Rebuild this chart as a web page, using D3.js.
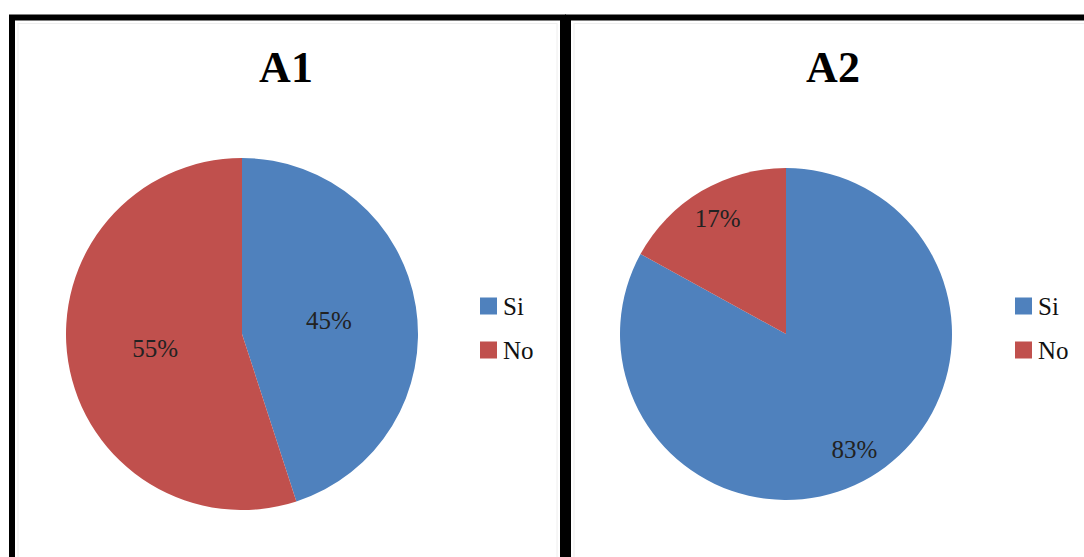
<!DOCTYPE html>
<html><head><meta charset="utf-8">
<script src="https://cdn.jsdelivr.net/npm/d3@7"></script>
<style>body{margin:0;background:#fff}svg{display:block}
text{font-family:"Liberation Serif","Times New Roman","DejaVu Serif",serif}</style>
</head><body>
<svg id="c" width="1084" height="557"></svg>
<script>
const categories = ["Si", "No"];
const titles = ["A1", "A2"];
const valuesA1 = [45, 55];
const valuesA2 = [83, 17];
const colors = ["#4F81BD", "#C0504D"];

const svg = d3.select("#c");
const panels = [
  {title: titles[0], values: valuesA1, x0: 12, x1: 563, cx: 242, cy: 334, r: 176, tx: 286, lx: 480, lr: 0.5},
  {title: titles[1], values: valuesA2, x0: 568, x1: 1120, cx: 786, cy: 334, r: 166, tx: 833, lx: 1015, lr: 0.81}
];
const color = d3.scaleOrdinal().domain(categories).range(colors);

panels.forEach(p => {
  svg.append("rect").attr("x", p.x0 + 6).attr("y", 23.5).attr("width", p.x1 - p.x0 - 12).attr("height", 600)
    .attr("fill", "none").attr("stroke", "#eeeeee").attr("stroke-width", 1);
  svg.append("rect").attr("x", p.x0).attr("y", 17.5).attr("width", p.x1 - p.x0).attr("height", 600)
    .attr("fill", "none").attr("stroke", "#000").attr("stroke-width", 6);

  svg.append("text").attr("x", p.tx).attr("y", 82).attr("text-anchor", "middle")
    .attr("font-weight", "bold").attr("font-size", 44)
    .text(p.title);

  const data = categories.map((c, i) => ({cat: c, v: p.values[i]}));
  const pie = d3.pie().value(d => d.v).sort(null);
  const arcs = pie(data);
  const arc = d3.arc().innerRadius(0).outerRadius(p.r);
  const labelArc = d3.arc().innerRadius(p.r * p.lr).outerRadius(p.r * p.lr);
  const g = svg.append("g").attr("transform", `translate(${p.cx},${p.cy})`);
  g.selectAll("path").data(arcs).join("path")
    .attr("d", arc).attr("fill", d => color(d.data.cat));
  g.selectAll("text").data(arcs).join("text")
    .attr("transform", d => `translate(${labelArc.centroid(d)})`)
    .attr("text-anchor", "middle").attr("dy", "0.35em")
    .attr("font-size", 25).attr("fill", "#222")
    .text(d => d.data.v + "%");

  const lg = svg.append("g").attr("transform", `translate(${p.lx},0)`);
  categories.forEach((c, i) => {
    const y = 306 + i * 44;
    lg.append("rect").attr("x", 0).attr("y", y - 8.5).attr("width", 17).attr("height", 17).attr("fill", color(c));
    lg.append("text").attr("x", 23).attr("y", y).attr("dy", "0.35em")
      .attr("font-size", 25).attr("fill", "#111").text(c);
  });
});
</script>
</body></html>
